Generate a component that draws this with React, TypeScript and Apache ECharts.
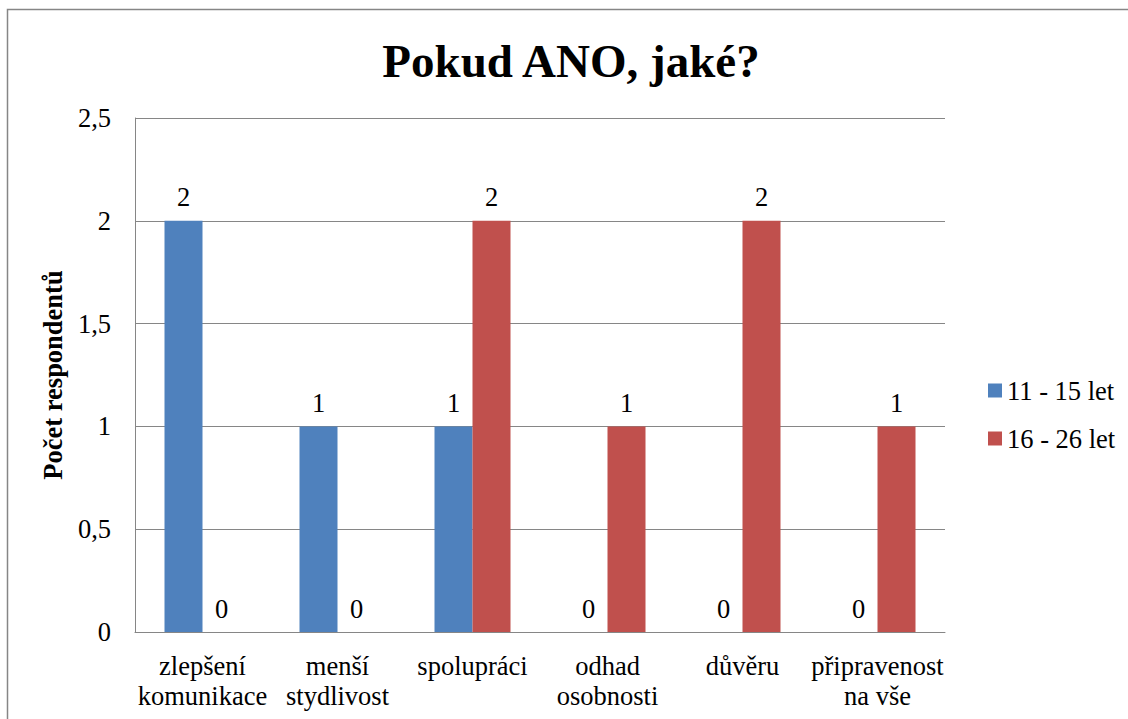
import React, { useEffect, useRef } from "react";
import * as echarts from "echarts";

const categories = [
  "zlepšení\nkomunikace",
  "menší\nstydlivost",
  "spolupráci",
  "odhad\nosobnosti",
  "důvěru",
  "připravenost\nna vše",
];
const seriesNames = ["11 - 15 let", "16 - 26 let"];
const youngValues = [2, 1, 1, 0, 0, 0];
const olderValues = [0, 0, 2, 1, 2, 1];
const yTicks = { min: 0, max: 2.5, interval: 0.5 };

const FONT = "'Liberation Serif', 'Times New Roman', serif";
const GRAY = "#868686";
const FS = 26.5;

export default function App() {
  const ref = useRef<HTMLDivElement>(null);
  useEffect(() => {
    if (!ref.current) return;
    const chart = echarts.init(ref.current, null, { renderer: "svg" });
    const labelCfg = {
      show: true,
      position: "top",
      distance: 10,
      color: "#000",
      fontSize: FS,
      fontFamily: FONT,
    };
    chart.setOption({
      animation: false,
      textStyle: { fontFamily: FONT },
      title: {
        text: "Pokud ANO, jaké?",
        left: 566,
        top: 32,
        textAlign: "center",
        textStyle: { fontFamily: FONT, fontWeight: "bold", fontSize: 47, color: "#000" },
      },
      graphic: [
        {
          type: "rect",
          shape: { x: 7.5, y: 9.5, width: 1300, height: 900 },
          style: { fill: "none", stroke: GRAY, lineWidth: 1.5 },
          silent: true,
        },
      ],
      legend: {
        orient: "vertical",
        left: 983,
        top: 372,
        itemWidth: 14,
        itemHeight: 14,
        itemGap: 21,
        icon: "rect",
        textStyle: { fontFamily: FONT, fontSize: FS, color: "#000", lineHeight: 26 },
        data: seriesNames,
      },
      grid: { left: 135, right: 183, top: 118, bottom: 87 },
      xAxis: {
        type: "category",
        data: categories,
        axisLine: { show: true, lineStyle: { color: GRAY, width: 1 } },
        axisTick: { show: false },
        axisLabel: {
          interval: 0,
          margin: 19,
          color: "#000",
          fontSize: FS,
          lineHeight: 30,
          fontFamily: FONT,
        },
      },
      yAxis: {
        type: "value",
        min: yTicks.min,
        max: yTicks.max,
        interval: yTicks.interval,
        name: "Počet respondentů",
        nameLocation: "middle",
        nameGap: 67,
        nameTextStyle: { fontFamily: FONT, fontWeight: "bold", fontSize: 26.5, color: "#000" },
        axisLine: { show: true, lineStyle: { color: GRAY, width: 1 } },
        axisTick: { show: false },
        splitLine: { show: true, lineStyle: { color: GRAY, width: 1 } },
        axisLabel: {
          margin: 24,
          color: "#000",
          fontSize: FS,
          fontFamily: FONT,
          formatter: (v: number) => String(v).replace(".", ","),
        },
      },
      series: [
        {
          name: seriesNames[0],
          type: "bar",
          data: youngValues,
          barWidth: 38,
          barGap: "0%",
          itemStyle: { color: "#4F81BD" },
          label: labelCfg,
        },
        {
          name: seriesNames[1],
          type: "bar",
          data: olderValues,
          barWidth: 38,
          barGap: "0%",
          itemStyle: { color: "#C0504D" },
          label: labelCfg,
        },
      ],
    });
    return () => chart.dispose();
  }, []);
  return (
    <div
      ref={ref}
      style={{ position: "fixed", left: 0, top: 0, width: 1128, height: 719, background: "#fff" }}
    />
  );
}
